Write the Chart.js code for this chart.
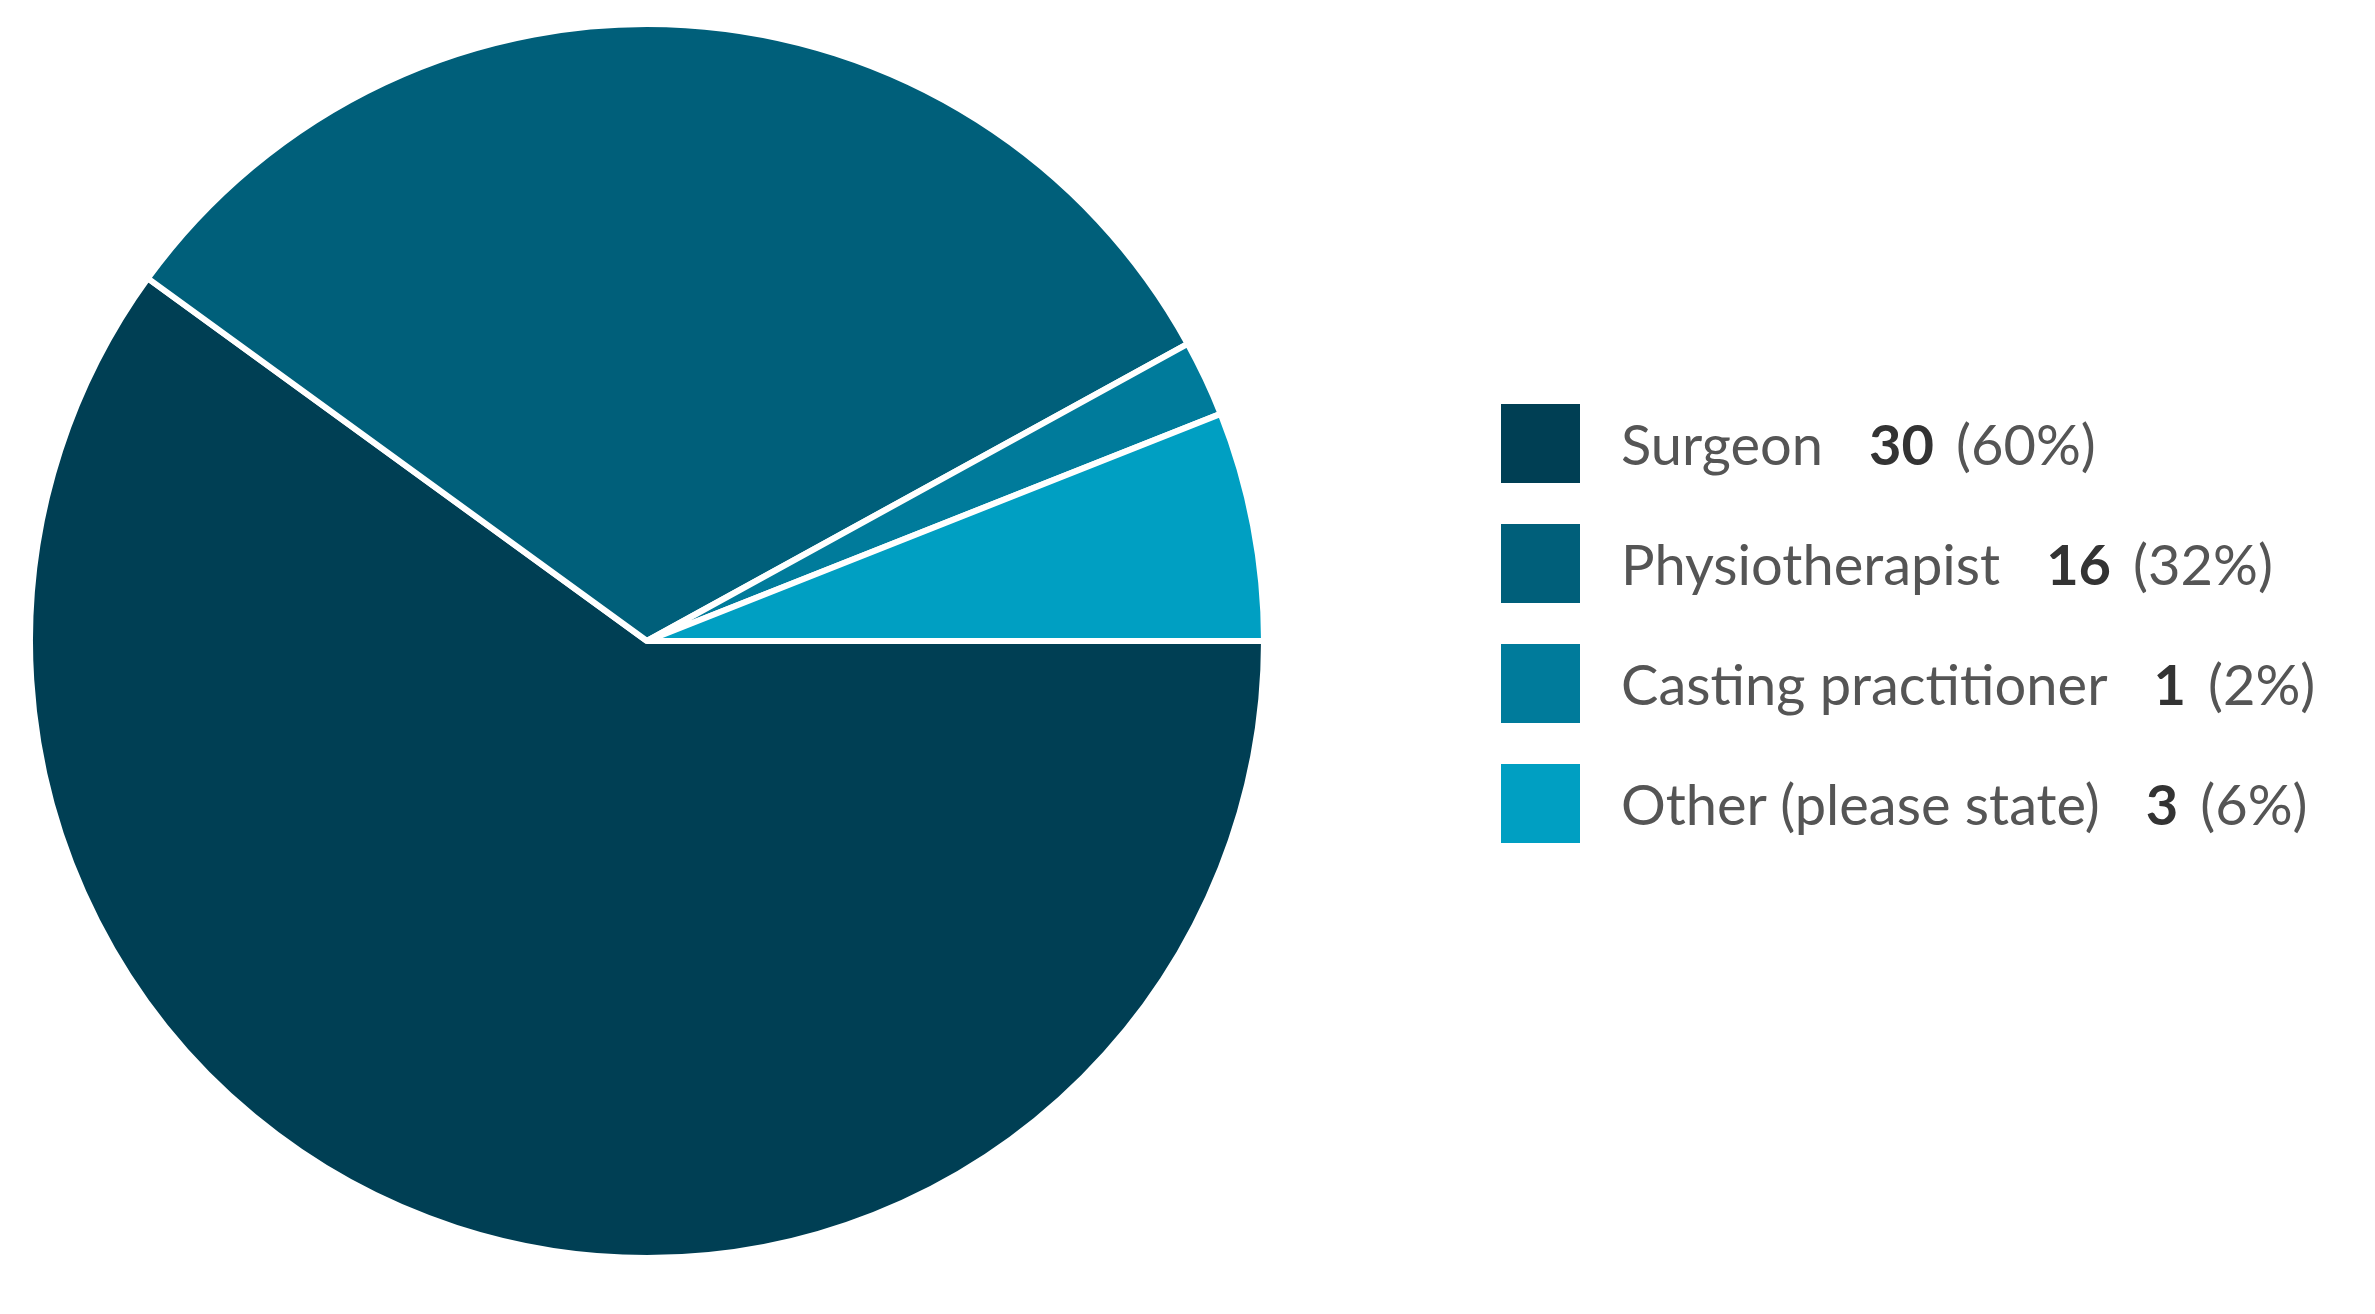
<!DOCTYPE html>
<html>
<head>
<meta charset="utf-8">
<script src="https://cdn.jsdelivr.net/npm/chart.js@4.4.0/dist/chart.umd.min.js"></script>
<style>
  html, body { margin: 0; padding: 0; background: #fff; }
  body { width: 2375px; height: 1314px; position: relative; overflow: hidden; font-family: Lato, "Open Sans", sans-serif; }
  #pieWrap { position: absolute; left: 27px; top: 21px; width: 1240px; height: 1240px; }
  #legend { position: absolute; left: 1501px; top: 404px; }
  .row { display: flex; align-items: center; height: 79px; margin-bottom: 41px; }
  .box { width: 79px; height: 79px; margin-right: 41px; flex: none; }
  .lbl { font-size: 56px; color: #555; white-space: nowrap; }
  .num { font-size: 56px; color: #333; font-weight: bold; margin-left: 46px; }
  .pct { font-size: 56px; color: #555; margin-left: 22px; }
</style>
</head>
<body>
<div id="pieWrap"><canvas id="pie"></canvas></div>
<div id="legend"></div>
<script>
// chart data
const categories = ['Surgeon', 'Physiotherapist', 'Casting practitioner', 'Other (please state)'];
const counts = [30, 16, 1, 3];
const percents = ['60%', '32%', '2%', '6%'];
const colours = ['#003f54', '#005f7a', '#007b9b', '#009fc2'];

new Chart(document.getElementById('pie'), {
  type: 'pie',
  data: {
    labels: categories,
    datasets: [{
      data: counts,
      backgroundColor: colours,
      borderColor: '#ffffff',
      borderWidth: 6,
    }]
  },
  options: {
    responsive: true,
    maintainAspectRatio: false,
    animation: false,
    rotation: 90,
    layout: { padding: 0 },
    plugins: {
      legend: { display: false },
      tooltip: { enabled: false },
    }
  }
});

// legend with mixed weights, built from the same arrays
const legend = document.getElementById('legend');
categories.forEach((name, i) => {
  const row = document.createElement('div');
  row.className = 'row';
  row.innerHTML =
    '<div class="box" style="background:' + colours[i] + '"></div>' +
    '<span class="lbl">' + name + '</span>' +
    '<span class="num">' + counts[i] + '</span>' +
    '<span class="pct">(' + percents[i] + ')</span>';
  legend.appendChild(row);
});
</script>
</body>
</html>
